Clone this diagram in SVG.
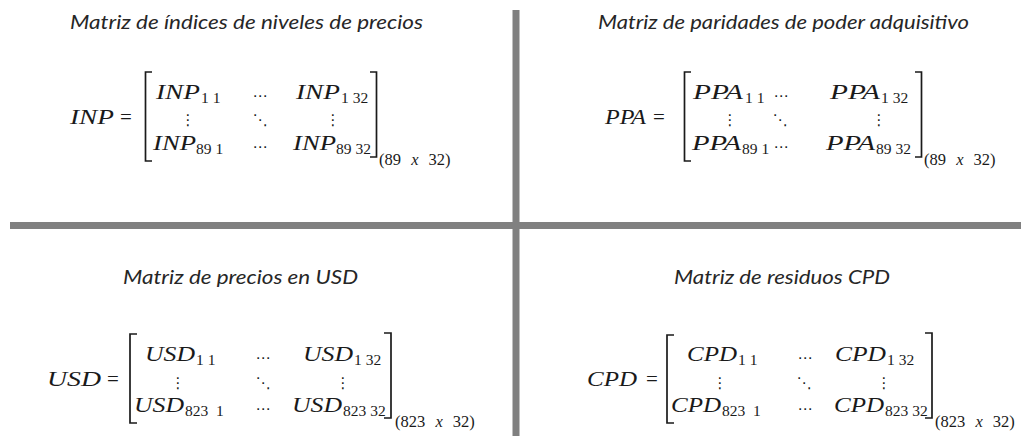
<svg xmlns="http://www.w3.org/2000/svg" width="1024" height="436" viewBox="0 0 1024 436">
<style>
.t{font-family:Lato,"Open Sans","Liberation Sans",sans-serif;font-style:italic;font-size:20px;fill:#262626}
.m{font-family:"Liberation Serif",serif;font-style:italic;font-size:20px;fill:#1a1a1a}
.eq{font-family:"Liberation Serif",serif;font-size:21px;fill:#1a1a1a}
.s{font-family:"Liberation Serif",serif;font-size:15.5px;fill:#1a1a1a}
.p{font-family:"Liberation Serif",serif;font-size:16.5px;fill:#1a1a1a;word-spacing:6px}
.i{font-style:italic}
.d{font-family:"DejaVu Sans",sans-serif;font-size:15px;fill:#1a1a1a;text-anchor:middle}
.b{fill:none;stroke:#1a1a1a;stroke-width:1.7}
.div{fill:#808080}
</style>
<rect width="1024" height="436" fill="#ffffff"/>
<g id="dividers">
<rect class="div" x="512.5" y="10" width="7" height="426"/>
<rect class="div" x="10" y="222" width="1011" height="7"/>
</g>
<g id="inp">
<text class="t" x="70" y="29" textLength="353" lengthAdjust="spacingAndGlyphs">Matriz de índices de niveles de precios</text>
<text class="m" x="70" y="124" textLength="44" lengthAdjust="spacingAndGlyphs">INP</text>
<text class="eq" x="120" y="124">=</text>
<path class="b" d="M152,72 H145.5 V161 H152"/>
<text class="m" x="156" y="99" textLength="44" lengthAdjust="spacingAndGlyphs">INP</text>
<text class="s" x="201" y="103">1 1</text>
<text class="d" x="260" y="101">⋯</text>
<text class="m" x="296" y="99" textLength="44" lengthAdjust="spacingAndGlyphs">INP</text>
<text class="s" x="341" y="103">1 32</text>
<text class="d" x="188" y="125">⋮</text>
<text class="d" x="260" y="125">⋱</text>
<text class="d" x="333" y="125">⋮</text>
<text class="m" x="153" y="150" textLength="43" lengthAdjust="spacingAndGlyphs">INP</text>
<text class="s" x="196" y="154">89 1</text>
<text class="d" x="260" y="152">⋯</text>
<text class="m" x="293" y="150" textLength="43" lengthAdjust="spacingAndGlyphs">INP</text>
<text class="s" x="336" y="154">89 32</text>
<path class="b" d="M370,72 H376.5 V157 H370"/>
<text class="p" x="379" y="165">(89 <tspan class="i">x</tspan> 32)</text>
</g>
<g id="ppa">
<text class="t" x="598" y="29" textLength="371" lengthAdjust="spacingAndGlyphs">Matriz de paridades de poder adquisitivo</text>
<text class="m" x="605" y="124" textLength="41" lengthAdjust="spacingAndGlyphs">PPA</text>
<text class="eq" x="653" y="124">=</text>
<path class="b" d="M691,72 H684.5 V161 H691"/>
<text class="m" x="693" y="99" textLength="50" lengthAdjust="spacingAndGlyphs">PPA</text>
<text class="s" x="745" y="103">1 1</text>
<text class="d" x="781" y="101">⋯</text>
<text class="m" x="830" y="99" textLength="50" lengthAdjust="spacingAndGlyphs">PPA</text>
<text class="s" x="881" y="103">1 32</text>
<text class="d" x="730" y="125">⋮</text>
<text class="d" x="780" y="125">⋱</text>
<text class="d" x="879" y="125">⋮</text>
<text class="m" x="692" y="150" textLength="49" lengthAdjust="spacingAndGlyphs">PPA</text>
<text class="s" x="742" y="154">89 1</text>
<text class="d" x="781" y="152">⋯</text>
<text class="m" x="826" y="150" textLength="49" lengthAdjust="spacingAndGlyphs">PPA</text>
<text class="s" x="876" y="154">89 32</text>
<path class="b" d="M915,72 H921.5 V157 H915"/>
<text class="p" x="924" y="165">(89 <tspan class="i">x</tspan> 32)</text>
</g>
<g id="usd">
<text class="t" x="123" y="284" textLength="235" lengthAdjust="spacingAndGlyphs">Matriz de precios en USD</text>
<text class="m" x="47" y="386" textLength="54" lengthAdjust="spacingAndGlyphs">USD</text>
<text class="eq" x="107" y="386">=</text>
<path class="b" d="M137,334 H130 V423 H137"/>
<text class="m" x="145" y="361" textLength="50" lengthAdjust="spacingAndGlyphs">USD</text>
<text class="s" x="196" y="365">1 1</text>
<text class="d" x="263" y="363">⋯</text>
<text class="m" x="303" y="361" textLength="50" lengthAdjust="spacingAndGlyphs">USD</text>
<text class="s" x="354" y="365">1 32</text>
<text class="d" x="178" y="388">⋮</text>
<text class="d" x="263" y="388">⋱</text>
<text class="d" x="343" y="388">⋮</text>
<text class="m" x="134" y="412" textLength="50" lengthAdjust="spacingAndGlyphs">USD</text>
<text class="s" x="185" y="416" xml:space="preserve">823  1</text>
<text class="d" x="263" y="414">⋯</text>
<text class="m" x="292" y="412" textLength="50" lengthAdjust="spacingAndGlyphs">USD</text>
<text class="s" x="343" y="416">823 32</text>
<path class="b" d="M384,333 H391 V418 H384"/>
<text class="p" x="395" y="427">(823 <tspan class="i">x</tspan> 32)</text>
</g>
<g id="cpd">
<text class="t" x="674" y="284" textLength="216" lengthAdjust="spacingAndGlyphs">Matriz de residuos CPD</text>
<text class="m" x="587" y="386" textLength="50" lengthAdjust="spacingAndGlyphs">CPD</text>
<text class="eq" x="646" y="386">=</text>
<path class="b" d="M674,335 H667 V423 H674"/>
<text class="m" x="687" y="361" textLength="50" lengthAdjust="spacingAndGlyphs">CPD</text>
<text class="s" x="738" y="365">1 1</text>
<text class="d" x="805" y="363">⋯</text>
<text class="m" x="835" y="361" textLength="51" lengthAdjust="spacingAndGlyphs">CPD</text>
<text class="s" x="887" y="365">1 32</text>
<text class="d" x="720" y="388">⋮</text>
<text class="d" x="804" y="388">⋱</text>
<text class="d" x="884" y="388">⋮</text>
<text class="m" x="671" y="412" textLength="50" lengthAdjust="spacingAndGlyphs">CPD</text>
<text class="s" x="722" y="416" xml:space="preserve">823  1</text>
<text class="d" x="805" y="414">⋯</text>
<text class="m" x="834" y="412" textLength="50" lengthAdjust="spacingAndGlyphs">CPD</text>
<text class="s" x="885" y="416">823 32</text>
<path class="b" d="M925,333 H932 V418 H925"/>
<text class="p" x="935" y="427">(823 <tspan class="i">x</tspan> 32)</text>
</g>
</svg>
